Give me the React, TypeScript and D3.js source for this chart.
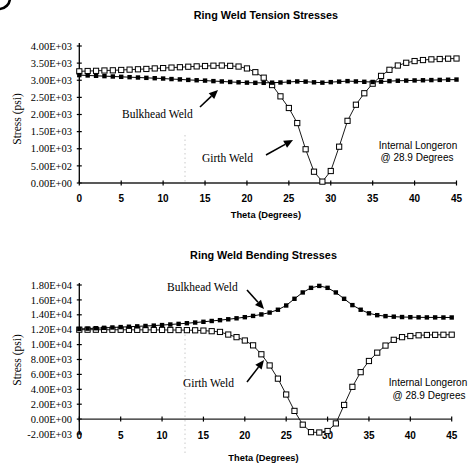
import React from "react";
import * as d3 from "d3";

const THETA = [0,1,2,3,4,5,6,7,8,9,10,11,12,13,14,15,16,17,18,19,20,21,22,23,24,25,26,27,28,29,30,31,32,33,34,35,36,37,38,39,40,41,42,43,44,45];

const TENSION_GIRTH = [3260,3270,3275,3285,3290,3300,3310,3320,3330,3345,3355,3370,3380,3395,3405,3415,3425,3430,3420,3400,3345,3235,3075,2860,2530,2190,1750,985,330,40,350,1060,1815,2285,2620,2900,3127,3305,3430,3510,3560,3590,3610,3620,3630,3635];
const TENSION_BULKHEAD = [3150,3140,3130,3120,3110,3100,3090,3080,3070,3060,3050,3035,3025,3010,3000,2990,2975,2965,2950,2940,2930,2925,2925,2930,2935,2950,2965,2960,2940,2930,2945,2960,2975,2965,2955,2950,2960,2975,2985,2990,2995,3000,3005,3010,3015,3020];

const BENDING_GIRTH = [12000,12000,12000,11990,11990,11990,11980,11980,11980,11970,11970,11960,11950,11940,11920,11880,11800,11700,11350,11000,10550,9900,8700,7200,5430,3300,1100,-750,-1750,-1800,-1600,-580,1900,4330,6300,7800,8920,9870,10640,11000,11150,11250,11290,11310,11320,11330];
const BENDING_BULKHEAD = [12100,12150,12200,12250,12300,12350,12400,12450,12500,12550,12620,12700,12780,12870,12960,13060,13170,13280,13400,13530,13680,13850,14050,14300,14680,15250,16150,17000,17620,17880,17620,17000,16150,15300,14680,14200,13950,13820,13750,13700,13680,13660,13650,13650,13640,13640];

const X_TICKS = [0,5,10,15,20,25,30,35,40,45];
const TENSION_Y_TICKS = [0,500,1000,1500,2000,2500,3000,3500,4000];
const TENSION_Y_LABELS = ["0.00E+00","5.00E+02","1.00E+03","1.50E+03","2.00E+03","2.50E+03","3.00E+03","3.50E+03","4.00E+03"];
const BENDING_Y_TICKS = [-2000,0,2000,4000,6000,8000,10000,12000,14000,16000,18000];
const BENDING_Y_LABELS = ["-2.00E+03","0.00E+00","2.00E+03","4.00E+03","6.00E+03","8.00E+03","1.00E+04","1.20E+04","1.40E+04","1.60E+04","1.80E+04"];

const SERIF = "'Liberation Serif', 'Times New Roman', serif";
const SANS = "'Liberation Sans', Arial, sans-serif";

function Arrow({ x1, y1, x2, y2 }: { x1: number; y1: number; x2: number; y2: number }) {
  const a = Math.atan2(y2 - y1, x2 - x1);
  const L = 9, W = 4;
  const bx = x2 - L * Math.cos(a), by = y2 - L * Math.sin(a);
  const px = -Math.sin(a) * W, py = Math.cos(a) * W;
  return (
    <g>
      <line x1={x1} y1={y1} x2={bx} y2={by} stroke="#000" strokeWidth={1.6} />
      <polygon points={`${x2},${y2} ${bx + px},${by + py} ${bx - px},${by - py}`} fill="#000" />
    </g>
  );
}

type PanelProps = {
  title: string; titleY: number;
  xRange: [number, number]; yDomain: [number, number]; yRange: [number, number];
  axisTop: number; axisBottom: number;
  yTicks: number[]; yLabels: string[];
  girth: number[]; bulkhead: number[];
  xLabelY: number; xTitleY: number; yTitleY: number;
};

function Panel(p: PanelProps) {
  const x = d3.scaleLinear().domain([0, 45]).range(p.xRange);
  const y = d3.scaleLinear().domain(p.yDomain).range(p.yRange);
  const y0 = y(0);
  const x0 = x(0);
  const lineG = d3.line<number>().x((_, i) => x(THETA[i])).y((d) => y(d));
  const cx = (p.xRange[0] + p.xRange[1]) / 2 - 2;
  return (
    <g>
      <text x={cx} y={p.titleY} textAnchor="middle" fontFamily={SANS} fontWeight="bold" fontSize={10.8}>{p.title}</text>
      <line x1={x0} y1={p.axisTop} x2={x0} y2={p.axisBottom} stroke="#000" strokeWidth={1.3} />
      {p.yTicks.map((t, i) => (
        <g key={t}>
          <line x1={x0 - 2.5} x2={x0 + 2.5} y1={y(t)} y2={y(t)} stroke="#000" strokeWidth={1.2} />
          <text x={72} y={y(t)} dy="0.35em" textAnchor="end" fontFamily={SERIF} fontSize={10.5}>{p.yLabels[i]}</text>
        </g>
      ))}
      <line x1={x0} y1={y0} x2={x(45)} y2={y0} stroke="#222" strokeWidth={1.4} />
      {X_TICKS.map((t) => (
        <g key={t}>
          <line x1={x(t)} x2={x(t)} y1={y0 - 2.5} y2={y0 + 2.5} stroke="#000" strokeWidth={1.2} />
          <text x={x(t)} y={p.xLabelY} textAnchor="middle" fontFamily={SANS} fontWeight="bold" fontSize={10}>{t}</text>
        </g>
      ))}
      <text x={cx} y={p.xTitleY} textAnchor="middle" fontFamily={SANS} fontWeight="bold" fontSize={9.3}>Theta (Degrees)</text>
      <text transform={`translate(21,${p.yTitleY}) rotate(-90)`} textAnchor="middle" fontFamily={SERIF} fontSize={11.5}>Stress (psi)</text>
      <path d={lineG(p.girth) || ""} fill="none" stroke="#000" strokeWidth={0.9} />
      <path d={lineG(p.bulkhead) || ""} fill="none" stroke="#000" strokeWidth={1} />
      {p.girth.map((v, i) => (
        <rect key={"g" + i} x={x(THETA[i]) - 2.6} y={y(v) - 2.6} width={5.2} height={5.2} fill="#fff" stroke="#000" strokeWidth={1} />
      ))}
      {p.bulkhead.map((v, i) => (
        <rect key={"b" + i} x={x(THETA[i]) - 2.2} y={y(v) - 2.2} width={4.4} height={4.4} fill="#000" />
      ))}
    </g>
  );
}

export default function App() {
  return (
    <svg width={472} height={468} viewBox="0 0 472 468" style={{ position: "absolute", left: 0, top: 0, background: "#fff" }}>
      <rect width={472} height={468} fill="#fff" />
      <circle cx={-1} cy={-2} r={11} fill="none" stroke="#000" strokeWidth={2.6} />
      <line x1={185} y1={135} x2={185} y2={182} stroke="#bbb" strokeWidth={0.8} strokeDasharray="1.5 3" />
      <line x1={185} y1={330} x2={185} y2={455} stroke="#bbb" strokeWidth={0.8} strokeDasharray="1.5 3" />

      <Panel
        title="Ring Weld Tension Stresses" titleY={19}
        xRange={[79.3, 456.5]} yDomain={[0, 4000]} yRange={[183, 46]}
        axisTop={43} axisBottom={183}
        yTicks={TENSION_Y_TICKS} yLabels={TENSION_Y_LABELS}
        girth={TENSION_GIRTH} bulkhead={TENSION_BULKHEAD}
        xLabelY={202} xTitleY={218} yTitleY={119}
      />
      <text x={122} y={118} fontFamily={SERIF} fontSize={11.5}>Bulkhead Weld</text>
      <Arrow x1={200} y1={107} x2={218} y2={90} />
      <text x={202} y={162} fontFamily={SERIF} fontSize={11.5}>Girth Weld</text>
      <Arrow x1={266} y1={155} x2={293} y2={140} />
      <text x={418} y={148.5} textAnchor="middle" fontFamily={SANS} fontSize={10}>Internal Longeron</text>
      <text x={417} y={161} textAnchor="middle" fontFamily={SANS} fontSize={10}>@ 28.9 Degrees</text>

      <Panel
        title="Ring Weld Bending Stresses" titleY={259}
        xRange={[79.3, 451.7]} yDomain={[-2000, 18000]} yRange={[434, 285]}
        axisTop={283} axisBottom={434}
        yTicks={BENDING_Y_TICKS} yLabels={BENDING_Y_LABELS}
        girth={BENDING_GIRTH} bulkhead={BENDING_BULKHEAD}
        xLabelY={439} xTitleY={461} yTitleY={360}
      />
      <text x={167} y={290.5} fontFamily={SERIF} fontSize={11.5}>Bulkhead Weld</text>
      <Arrow x1={247} y1={290} x2={264} y2={309} />
      <text x={183} y={387} fontFamily={SERIF} fontSize={11.5}>Girth Weld</text>
      <Arrow x1={247} y1={382} x2={264} y2={360} />
      <text x={428} y={385.5} textAnchor="middle" fontFamily={SANS} fontSize={10}>Internal Longeron</text>
      <text x={429} y={398.5} textAnchor="middle" fontFamily={SANS} fontSize={10}>@ 28.9 Degrees</text>
    </svg>
  );
}
